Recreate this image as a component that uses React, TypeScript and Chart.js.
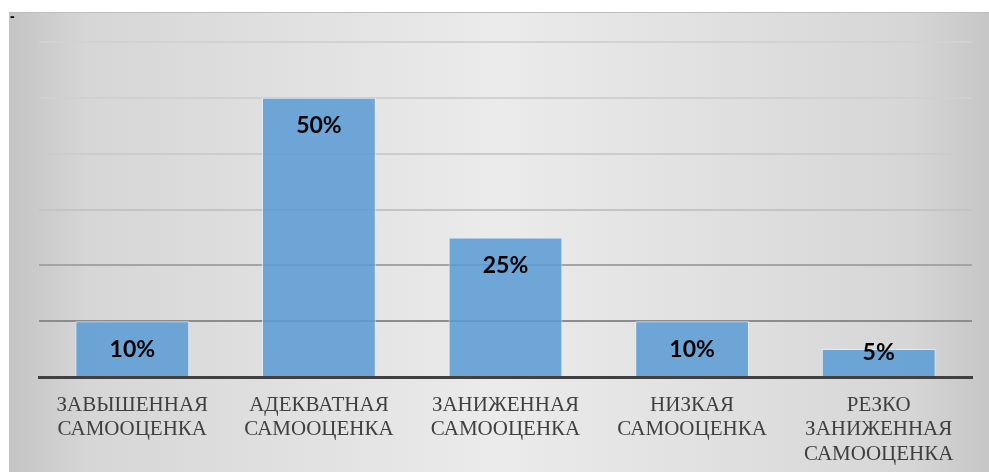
import React, { useEffect, useRef } from "react";
import { Chart, registerables } from "chart.js";

Chart.register(...registerables);

const categories: string[][] = [
  ["ЗАВЫШЕННАЯ", "САМООЦЕНКА"],
  ["АДЕКВАТНАЯ", "САМООЦЕНКА"],
  ["ЗАНИЖЕННАЯ", "САМООЦЕНКА"],
  ["НИЗКАЯ", "САМООЦЕНКА"],
  ["РЕЗКО", "ЗАНИЖЕННАЯ", "САМООЦЕНКА"],
];
const values: number[] = [10, 50, 25, 10, 5];
const valueLabels: string[] = ["10%", "50%", "25%", "10%", "5%"];
const yTicks: number[] = [0, 10, 20, 30, 40, 50, 60];
const gridColors: Record<number, string> = {
  0: "#404040",
  10: "#8c8c8c",
  20: "#a4a4a4",
  30: "#c4c4c4",
  40: "#cccccc",
  50: "#d0d0d0",
  60: "#d2d2d2",
};

const bgPlugin = {
  id: "bgGradient",
  beforeDraw(chart: any) {
    const { ctx, width, height } = chart;
    const g = ctx.createLinearGradient(0, 0, width, 0);
    g.addColorStop(0, "#c4c4c4");
    g.addColorStop(0.08, "#d6d6d6");
    g.addColorStop(0.5, "#ebebeb");
    g.addColorStop(0.92, "#d6d6d6");
    g.addColorStop(1, "#c6c6c6");
    ctx.save();
    ctx.fillStyle = g;
    ctx.fillRect(0, 0, width, height);
    ctx.fillStyle = "#bdbdbd";
    ctx.fillRect(0, 0, width, 1);
    ctx.restore();
  },
};

const labelPlugin = {
  id: "valueLabels",
  afterDatasetsDraw(chart: any) {
    const { ctx } = chart;
    const meta = chart.getDatasetMeta(0);
    ctx.save();
    ctx.font = "bold 23px Lato, 'Open Sans', sans-serif";
    ctx.fillStyle = "#000000";
    ctx.textAlign = "center";
    ctx.textBaseline = "middle";
    meta.data.forEach((bar: any, i: number) => {
      const base = bar.base;
      const y = Math.min(bar.y + 28, base - 24);
      ctx.fillText(valueLabels[i], bar.x, y);
    });
    ctx.restore();
  },
};

export default function App() {
  const ref = useRef<HTMLCanvasElement | null>(null);
  useEffect(() => {
    if (!ref.current) return;
    const chart = new Chart(ref.current, {
      type: "bar",
      data: {
        labels: categories,
        datasets: [
          {
            data: values,
            backgroundColor: "rgba(91,155,213,0.86)",
            borderColor: "rgba(230,240,250,0.8)",
            borderWidth: 1,
            categoryPercentage: 0.61,
            barPercentage: 1,
          },
        ],
      },
      options: {
        animation: false,
        responsive: true,
        maintainAspectRatio: false,
        layout: { padding: { left: 30, right: 17, top: 30, bottom: 0 } },
        plugins: {
          legend: { display: false },
          tooltip: { enabled: false },
        },
        scales: {
          x: {
            grid: { display: false },
            border: { display: true, color: "#404040", width: 3, z: 1 },
            ticks: {
              color: "#404040",
              font: { family: "'Liberation Serif', 'Times New Roman', serif", size: 21, lineHeight: 1.17 },
              padding: 8,
              maxRotation: 0,
              autoSkip: false,
            },
            afterFit: (s: any) => {
              s.height = 95;
            },
          },
          y: {
            min: 0,
            max: 60,
            afterBuildTicks: (s: any) => {
              s.ticks = yTicks.map((v) => ({ value: v }));
            },
            ticks: { display: false },
            border: { display: false },
            grid: {
              color: (c: any) => gridColors[c.tick?.value] ?? "#cccccc",
              lineWidth: (c: any) => (c.tick?.value === 0 ? 0 : 2),
              drawTicks: false,
            },
            afterFit: (s: any) => {
              s.width = 0;
            },
          },
        },
      },
      plugins: [bgPlugin, labelPlugin],
    });
    return () => chart.destroy();
  }, []);

  return (
    <div style={{ position: "absolute", left: 9, top: 12, width: 980, height: 460 }}>
      <canvas ref={ref} />
      <span
        style={{
          position: "absolute",
          left: 1,
          top: -3,
          fontSize: 14,
          fontWeight: "bold",
          lineHeight: "14px",
          color: "#000",
          fontFamily: "'Liberation Sans', sans-serif",
        }}
      >
        -
      </span>
    </div>
  );
}
